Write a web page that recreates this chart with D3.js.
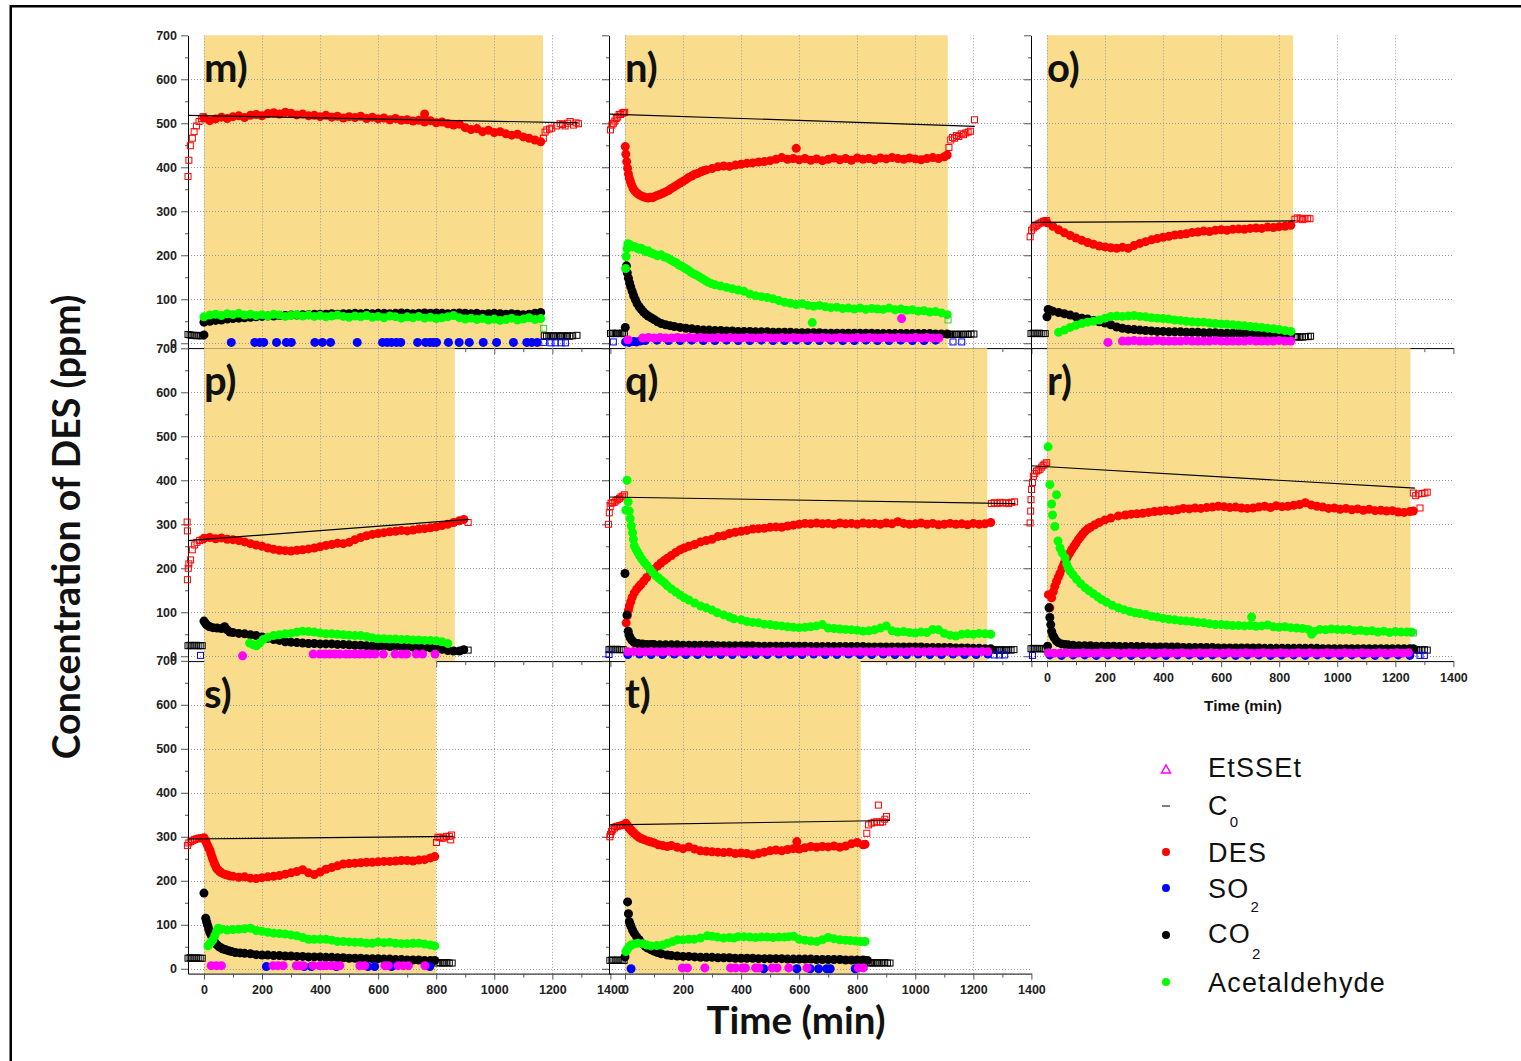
<!DOCTYPE html>
<html><head><meta charset="utf-8">
<script src="https://cdn.jsdelivr.net/npm/d3@7"></script>
<style>body{margin:0;background:#fff}svg{display:block}</style>
</head><body>
<svg id="c" width="1521" height="1061"></svg>
<script>
// ---------- helpers: sampling grid for evenly spaced readings ----------
function run(t0, dt, vals){ return vals.map((v,i)=>[t0+i*dt, v]); }
function at(ts, v){ return ts.map(t=>[t, v]); }

// ---------- ticks ----------
const xTicks = [0,200,400,600,800,1000,1200,1400];
const xMinor = [100,300,500,700,900,1100,1300];
const yTicks = [0,100,200,300,400,500,600,700];
const yMinor = [50,150,250,350,450,550,650];
const xGrid = [0,200,400,600,800,1000,1200];
const yGrid = [0,100,200,300,400,500,600];

// ---------- panel m ----------
const c0M = [[-55,518],[1290,501]];
const desMPre = [[-55,379],[-52,416],[-47,449],[-40,466],[-34,481],[-26,494],[-17,504],[-9,511],[-3,515]];
const desMPost = [[1169,466],[1175,480],[1181,485],[1190,487],[1198,489],[1215,494],[1227,499],[1235,497],[1244,494],[1252,500],[1261,504],[1273,496],[1282,501],[1290,499]];
const desM = run(0,20,[512,506,510,514,511,515,517,513,518,520,
 517,522,524,521,525,523,519,521,517,518,
 515,518,514,516,512,515,513,516,511,514,
 510,512,508,511,507,508,505,507,503,506,
 501,503,499,496,498,490,486,488,481,484,
 479,481,476,473,475,469,466,462,458]).concat([[760,521]]);
const acetM = run(0,20,[60,64,66,63,67,65,68,64,66,63,
 65,62,66,64,61,63,65,62,64,61,
 63,60,62,64,61,59,62,60,63,59,
 61,58,62,60,57,60,58,61,57,59,
 56,58,60,63,58,55,57,54,56,53,
 55,52,54,57,53,55,58,54,56]);
const acetMPost = [[1170,34]];
const co2M = [[0,19]].concat(run(0,20,[48,50,52,53,55,56,57,58,59,60,
 61,62,62,63,63,64,64,65,65,66,
 66,66,67,66,67,67,68,67,68,67,
 68,68,67,68,69,68,67,68,69,68,
 69,68,67,68,69,68,67,68,66,67,
 68,67,66,67,66,65,66,68,70]));
const co2MPre = [[-55,20],[-48,19],[-41,18],[-34,18],[-27,17],[-20,18],[-13,17],[-6,17]];
const co2MPost = [[1172,17],[1180,16],[1188,17],[1196,16],[1204,17],[1212,16],[1220,17],[1228,16],[1236,17],[1244,16],[1252,17],[1260,16],[1270,17],[1285,18]];
const so2M = at([94,175,192,206,250,284,301,382,408,436,528,615,631,646,663,678,736,763,778,790,801,842,879,914,962,1008,1066,1112,1129,1148],2);
const so2MPost = [[1170,2],[1195,1],[1210,1],[1230,1],[1245,1]];

// ---------- panel n ----------
const c0N = [[-52,521],[1205,493]];
const desNPre = [[-50,485],[-45,496],[-40,500],[-35,505],[-30,511],[-25,514],[-20,520],[-15,520],[-10,523],[-5,524],[-1,525]];
const desN = [[1,447],[3,430],[6,413],[9,398],[12,385],[15,375],[19,367],[23,360],[28,352],[33,347],[40,342],[48,338],[56,335],[64,333],[72,331],[80,330],[88,332],[96,331],[104,334],[112,336],[120,338],[130,341],[140,344],[150,347],[160,352],[170,356],[180,360],[190,364],[200,368],[210,372],[220,377],[230,380],[240,384],[250,386],[260,389],[270,392],[280,394]]
 .concat(run(300,20,[397,401,403,402,405,407,409,410,412,413,
 415,418,422,418,420,417,420,416,419,415,
 418,421,417,420,416,421,418,420,417,421,
 419,422,420,418,421,419,417,420,422,420,
 424])).concat([[1110,428],[590,443]]);
const desNPost = [[1116,445],[1122,462],[1128,468],[1135,466],[1142,472],[1150,470],[1158,476],[1166,474],[1174,478],[1182,480],[1190,482],[1204,508]];
const acetN = [[2,170],[4,197],[7,215],[10,226],[15,225],[20,222],[26,219],[32,220],[40,217],[48,214],[56,216],[64,212],[72,208],[80,210],[90,205],[100,203],[112,199],[124,201],[136,196],[146,194],[156,190],[166,186],[176,183],[186,178],[196,175],[206,171],[216,167],[226,162],[236,158],[246,155],[256,151],[266,147],[276,143],[286,139],[296,136]]
 .concat(run(310,20,[133,130,127,124,121,118,112,108,106,104,
 101,97,93,91,88,90,86,84,86,83,
 81,82,79,80,78,80,77,79,78,77,
 80,76,78,75,76,73,74,71,72,69])).concat([[1110,65],[645,47]]);
const acetNPost = [[1113,53]];
const co2N = [[1,36],[5,176],[8,160],[12,148],[16,137],[20,128],[25,118],[30,108],[36,99],[42,90],[49,83],[56,77],[64,71],[72,66],[80,62],[90,58],[100,54],[112,49],[125,45],[140,42],[155,40],[170,38],[190,36],[210,34],[230,33],[250,31]]
 .concat(run(270,20,[30,30,29,29,28,28,27,27,27,26,
 26,26,25,25,25,25,24,24,24,24,
 24,23,23,23,23,23,23,23,23,23,
 22,22,22,22,22,22,22,22,22,22,
 21,21,21]));
const co2NPre = [[-50,22],[-44,23],[-38,22],[-32,22],[-26,23],[-20,22],[-14,22],[-8,23],[-2,22]];
const co2NPost = [[1118,20],[1126,21],[1134,20],[1142,20],[1150,21],[1158,20],[1166,20],[1174,21],[1182,20],[1192,21],[1202,21]];
const etN = [[10,8]].concat(run(61,20,[12,13,12,13,12,12,13,12,13,12,
 13,12,12,13,12,13,12,12,13,12,
 12,13,12,12,13,12,13,12,12,13,
 12,13,12,12,13,12,12,13,12,13,
 12,12,13,12,13,12,12,13,12,13,
 12,12])).concat([[953,56]]);
const so2N = [[2,3],[8,5],[14,2],[30,4],[40,3],[52,5]].concat(run(70,40,[6,7,6,6,7,6,6,7,6,6,7,6,6,7,6,6,7,6,6,7,6,6,7,6,6,7]));
const so2NPre = [[-40,3]];
const so2NPost = [[1130,3],[1160,3]];

// ---------- panel o ----------
const c0O = [[-55,275],[855,278]];
const desOPre = [[-58,242],[-53,257],[-47,262],[-41,265],[-35,268],[-30,271],[-24,273],[-18,275],[-12,277],[-7,278],[-2,279]];
const desO = run(0,20,[274,266,258,251,245,239,234,229,225,221,
 219,217,216,218,216,222,227,231,235,238,
 241,243,246,247,249,252,253,255,254,257,
 258,257,259,260,259,261,262,261,264,263,
 265,266,268]);
const desOPost = [[854,282],[862,285],[872,284],[880,281],[889,283],[898,284],[906,283]];
const acetO = run(40,20,[25,30,36,41,45,48,50,53,57,61,
 62,61,62,63,61,60,58,57,56,55,
 53,52,50,49,48,48,46,45,44,43,
 42,41,40,38,37,36,34,33,31,29,
 27]);
const co2O = [[0,60],[4,77],[10,75]].concat(run(20,20,[73,70,67,64,60,57,55,52,49,46,
 42,37,34,32,31,30,29,28,27,27,
 26,26,26,25,25,25,24,24,24,23,
 23,23,23,22,22,22,21,21,21,20,
 20,20]));
const co2OPre = [[-55,22],[-48,23],[-41,22],[-34,22],[-27,23],[-20,22],[-13,22],[-6,22]];
const co2OPost = [[856,14],[864,15],[872,14],[880,14],[890,15],[900,15],[908,16]];
const etO = [[210,2]].concat(run(260,20,[5,5,6,5,5,5,6,5,5,5,5,6,5,5,5,5,6,5,5,5,5,5,6,5,5,5,5,6,5,5]));

// ---------- panel p ----------
const c0P = [[-55,263],[912,311]];
const desPPre = [[-58,305],[-57,285],[-57,174],[-54,200],[-52,210],[-46,219],[-40,242],[-32,253],[-24,259],[-15,263],[-6,265]];
const desP = run(0,20,[268,270,267,269,266,265,263,260,256,253,
 250,246,243,241,240,239,241,242,244,246,
 249,252,254,257,256,259,265,270,274,277,
 279,281,283,284,286,285,287,289,290,292,
 294,297,300,304,308]).concat([[895,311]]);
const desPPost = [[910,304]];
const acetP = [[157,30],[170,26],[181,24],[192,30],[204,38]].concat(run(220,20,[43,47,49,51,52,55,57,56,55,53,
 51,51,50,49,48,47,47,45,42,40,
 40,39,39,38,38,37,37,36,36,35,
 33,29]));
const co2P = [[0,80],[4,76],[8,72],[14,69],[20,67],[31,65],[45,64],[60,63],[71,67],[80,60],[89,55]].concat(run(100,20,[54,52,51,49,47,44,41,38,36,33,
 32,31,30,29,29,28,28,28,27,27,
 26,25,25,24,23,23,23,22,22,22,
 22,21,21,20,19,18,16,13,12,12])).concat([[895,15]]);
const co2PPre = [[-55,24],[-48,25],[-41,24],[-34,24],[-27,25],[-20,24],[-13,24],[-6,24]];
const co2PPost = [[910,14]];
const so2PPre = [[-12,2]];
const etP = [[133,1]].concat(at([376,399,416,433,451,468,489,502,520,537,554,571,589,618,658,681,698,731,753,796],5));

// ---------- panel q ----------
const c0Q = [[-55,362],[1345,347]];
const desQPre = [[-57,300],[-54,326],[-51,340],[-48,348],[-43,349],[-37,350],[-31,353],[-25,356],[-19,359],[-14,362],[-8,364],[-2,367]];
const desQ = [[4,76],[8,92],[12,105],[15,114],[20,124],[25,134],[32,144],[40,152],[48,158],[55,163],[65,171],[75,179],[89,190],[100,198],[112,205],[124,212],[136,218],[146,223],[160,229],[175,236],[190,242],[204,246]]
 .concat(run(220,20,[250,254,260,263,266,272,274,279,282,284,
 286,289,290,291,293,294,293,296,298,300,
 302,301,303,301,302,300,303,301,302,300,
 303,301,302,300,303,301,306,302,300,301,
 303,300,302,299,300,302,300,301,299,302,
 300,301,304]));
const desQPost = [[1262,347],[1272,349],[1282,347],[1292,350],[1302,348],[1312,349],[1322,347],[1332,350],[1342,351]];
const acetQ = [[3,332],[7,400],[11,351],[15,330],[18,313],[22,296],[26,281],[29,266],[32,251],[38,243],[44,236],[50,229],[58,221],[67,213],[76,206],[86,198],[96,190],[106,183],[116,178],[126,172],[136,167],[146,160],[160,153],[175,146],[190,139],[204,133],[220,128],[240,121],[261,114],[280,110],[300,105],[318,99],[340,94],[360,89],[375,85]]
 .concat(run(400,20,[83,79,77,76,73,72,70,69,67,66,
 65,66,67,69,72,64,63,62,61,60,
 59,57,58,60,64,69,58,55,56,54,
 53,55,54,61,60,52,48,46,50,51,
 50,52,51,50]));
const co2Q = [[0,188],[7,94],[11,57],[14,48],[18,42],[24,36],[32,31],[45,29],[60,28],[75,27],[89,27]].concat(run(100,20,[27,26,26,26,26,25,25,25,25,25,
 25,24,24,24,24,24,24,24,23,23,
 23,23,23,23,23,23,23,22,22,22,
 22,22,22,22,22,22,22,21,21,21,
 21,21,21,21,21,21,21,20,20,20,
 20,20,19,19,19,18,18,17,17]));
const co2QPre = [[-55,15],[-48,16],[-41,15],[-34,15],[-27,16],[-20,15],[-13,15],[-6,15]];
const co2QPost = [[1266,14],[1274,15],[1282,14],[1290,14],[1298,15],[1306,14],[1314,14],[1322,15],[1330,14],[1340,15]];
const etQ = run(10,20,[10,11,10,10,11,10,10,11,10,10,
 11,10,10,11,10,10,11,10,10,11,
 10,10,11,10,10,11,10,10,11,10,
 10,11,10,10,11,10,10,11,10,10,
 11,10,10,11,10,10,11,10,10,11,
 10,10,11,10,10,11,10,10,11,10,
 10,11,10]);
const so2Q = run(10,40,[4,5,4,4,5,4,4,5,4,4,5,4,4,5,4,4,5,4,4,5,4,4,5,4,4,5,4,4,5,4,4,5]);
const so2QPre = [[-55,4]];
const so2QPost = [[1272,3],[1290,3],[1308,3]];

// ---------- panel r ----------
const c0R = [[-55,433],[1268,382]];
const desRPre = [[-58,303],[-56,330],[-55,356],[-53,379],[-50,395],[-47,409],[-42,415],[-36,421],[-30,423],[-24,425],[-18,430],[-13,434],[-7,437],[-1,440]];
const desR = [[5,140],[10,110],[16,133],[22,147],[27,159],[33,170],[39,180],[45,189],[52,200],[58,209],[62,216],[70,225],[78,234],[85,242],[93,250],[100,257],[108,265],[115,271],[123,278],[131,284],[140,289],[150,293],[165,299],[180,304],[200,310],[220,314],[246,319],[270,321],[290,323]]
 .concat(run(310,20,[324,325,327,329,330,332,331,333,336,335,
 337,336,338,339,341,340,338,339,337,336,
 337,339,341,338,342,340,341,343,345,349,
 344,341,339,336,337,334,336,333,335,332,
 334,331,332,330,331,328,327,329])).concat([[1262,330]]);
const desRPost = [[1262,371],[1270,365],[1280,369],[1285,337],[1292,370],[1302,371],[1310,373]];
const acetR = [[4,476],[10,390],[16,346],[19,321],[27,295],[33,367],[38,262],[45,246],[52,235],[62,224],[68,210],[73,201],[80,193],[90,185],[102,175],[116,165],[131,156],[145,149],[160,142],[175,135],[188,129],[205,123],[225,116],[246,110],[265,106],[285,102],[303,99]]
 .concat(run(320,20,[97,95,91,89,86,84,83,81,80,79,
 77,76,74,72,72,71,70,70,69,70,
 68,69,71,67,66,67,65,64,63,61,
 56,61,60,62,61,60,61,58,59,57,
 58,55,57,54,56,55,55])).concat([[1256,55],[912,50],[705,89]]);
const acetRPost = [[1262,53]];
const co2R = [[2,23],[7,110],[10,88],[13,72],[16,57],[20,48],[25,42],[32,35],[39,31],[50,28],[62,27],[73,26]]
 .concat(run(90,20,[25,24,24,24,23,23,23,23,22,22,
 22,22,22,21,21,21,21,21,21,20,
 20,20,20,20,20,19,19,19,19,19,
 19,19,19,18,18,18,18,18,18,18,
 18,18,18,17,17,17,17,17,17,17,
 17,17,17,17,17,17,17,17,17])).concat([[1262,17]]);
const co2RPre = [[-55,17],[-48,18],[-41,17],[-34,17],[-27,18],[-20,17],[-13,17],[-6,17]];
const co2RPost = [[1266,14],[1274,15],[1282,14],[1292,14],[1300,15],[1310,14]];
const etR = run(5,20,[8,7,7,8,7,7,8,7,7,8,
 7,8,7,7,8,7,7,8,7,7,
 8,7,7,8,7,7,8,7,8,7,
 7,8,7,7,8,7,7,8,7,7,
 8,7,7,8,7,8,7,7,8,7,
 7,8,7,7,8,7,7,8,7,7,
 8,7,8]);
const so2R = run(10,40,[3,2,3,3,2,3,3,2,3,3,2,3,3,2,3,3,2,3,3,2,3,3,2,3,3,2,3,3,2,3,3,2]);
const so2RPre = [[-50,2]];
const so2RPost = [[1285,2],[1300,2]];

// ---------- panel s ----------
const c0S = [[-55,295],[859,301]];
const desSPre = [[-57,280],[-52,286],[-45,289],[-38,292],[-32,294],[-26,295],[-20,296],[-15,297],[-9,298],[-3,295]];
const desS = [[0,298],[4,293],[8,287],[12,281],[16,275],[20,270],[24,262],[28,254],[31,248],[35,241],[39,235],[43,229],[48,225],[54,221],[60,218],[70,215],[80,213],[89,211],[100,210]]
 .concat(run(120,20,[208,209,206,205,207,209,210,212,215,218,
 221,225,218,214,220,226,230,234,238,239,
 240,241,242,242,243,244,244,245,246,246,
 245,247,248,252])).concat([[795,255]]);
const desSPost = [[801,287],[806,299],[813,299],[820,297],[826,297],[835,301],[845,301],[850,293],[853,304]];
const acetS = [[14,52],[20,57],[26,62],[31,66],[37,75],[43,84],[49,92]].concat(run(60,20,[90,88,89,90,91,92,87,85,83,81,
 80,79,77,75,71,67,67,67,67,65,
 62,62,61,60,60,58,58,61,59,60,
 58,57,57,58,58,56,54])).concat([[795,52]]);
const co2S = [[0,172],[6,115],[9,107],[12,100],[16,91],[20,83],[25,76],[30,69],[37,60],[44,55],[52,50],[60,47],[66,45],[75,43],[85,41],[95,39],[108,37],[124,36]]
 .concat(run(140,20,[35,34,32,31,31,30,30,29,29,28,
 28,27,27,27,26,26,25,25,24,24,
 24,23,23,23,22,22,21,21,20,20,
 20,19,19])).concat([[795,19]]);
const co2SPre = [[-55,24],[-48,25],[-41,24],[-34,24],[-27,25],[-20,24],[-13,24],[-6,24]];
const co2SPost = [[805,13],[813,14],[821,13],[829,13],[837,14],[845,13],[855,13]];
const etS = at([25,43,60,238,255,273,318,330,342,376,399,411,422,439,456,468,537,554,623,635,669,687,704,761],7);
const so2S = at([215,345,370,456,565,588,646,778],5);

// ---------- panel t ----------
const c0T = [[-52,327],[913,337]];
const desTPre = [[-52,300],[-50,305],[-46,312],[-42,316],[-36,320],[-31,323],[-25,324],[-19,325],[-14,326],[-8,327],[-3,328]];
const desT = [[3,331],[8,326],[12,322],[15,320],[20,316],[25,312],[32,308],[40,303],[48,299],[56,296],[67,293],[80,290],[90,288],[101,286],[115,282],[130,280],[146,278]]
 .concat(run(160,20,[280,276,273,277,272,268,267,266,265,264,
 265,262,263,262,259,262,265,268,270,268,
 271,273,272,275,278,276,278,277,279,276,
 279,284,287,282])).concat([[827,283],[592,289]]);
const desTPost = [[833,308],[839,327],[850,331],[858,333],[867,334],[873,372],[880,333],[888,334],[895,340],[901,346]];
const acetT = [[3,39],[8,44],[14,50],[21,54],[30,56],[44,58],[60,57],[75,54],[90,52],[110,53],[130,54],[146,58],[165,62],[181,66],[200,66],[220,67],[238,67],[260,70],[284,75],[300,74],[318,72],[340,70],[360,71],[375,70],[390,73],[410,73],[430,72],[450,71],[470,72],[490,72],[510,71],[530,72],[550,72],[565,73],[581,74],[600,67],[620,65],[640,63],[661,62],[680,66],[700,71],[720,68],[740,66],[760,65],[776,64],[795,63],[812,62],[827,62]];
const co2T = [[0,27],[9,152],[12,125],[15,107],[18,101],[21,96],[26,88],[32,81],[40,73],[49,66],[60,57],[70,51],[78,47],[90,43],[100,40],[112,37],[125,34],[146,31]]
 .concat(run(160,20,[30,29,28,28,27,26,26,26,25,25,
 25,24,24,24,24,23,23,23,23,23,
 22,22,22,22,22,21,21,21,21,21,
 20,20,20,20])).concat([[835,19]]);
const co2TPre = [[-52,19],[-45,20],[-38,19],[-31,19],[-24,20],[-17,19],[-10,19],[-3,19]];
const co2TPost = [[838,13],[846,14],[854,13],[862,13],[870,14],[878,13],[886,13],[895,14],[904,13],[913,13]];
const etT = at([198,215,275,364,381,404,415,450,461,507,524,564,627,804,821],2);
const so2T = at([21,478,592,638,667,695,707,793],0);

// ---------- panel table ----------
const panelLabels = ['m)','n)','o)','p)','q)','r)','s)','t)'];
const shadeEnds = [1168,1112,848,864,1248,1252,799,812];
const legendNames = ['EtSSEt','C','DES','SO','CO','Acetaldehyde'];
const legendSubs = ['','0','','2','2',''];

const COL = {des:'#ff0000', acet:'#00ff00', co2:'#000000', so2:'#0000ff', et:'#ff00ff'};
const SHADE = '#fadd8c';

const panels = [
 {col:0,row:0,c0:c0M,des:desM,desPre:desMPre,desPost:desMPost,acet:acetM,acetPost:acetMPost,co2:co2M,co2Pre:co2MPre,co2Post:co2MPost,so2:so2M,so2Post:so2MPost,et:[]},
 {col:1,row:0,c0:c0N,des:desN,desPre:desNPre,desPost:desNPost,acet:acetN,acetPost:acetNPost,co2:co2N,co2Pre:co2NPre,co2Post:co2NPost,so2:so2N,so2Pre:so2NPre,so2Post:so2NPost,et:etN},
 {col:2,row:0,c0:c0O,des:desO,desPre:desOPre,desPost:desOPost,acet:acetO,co2:co2O,co2Pre:co2OPre,co2Post:co2OPost,so2:[],et:etO},
 {col:0,row:1,c0:c0P,des:desP,desPre:desPPre,desPost:desPPost,acet:acetP,co2:co2P,co2Pre:co2PPre,co2Post:co2PPost,so2:[],so2Pre:so2PPre,et:etP},
 {col:1,row:1,c0:c0Q,des:desQ,desPre:desQPre,desPost:desQPost,acet:acetQ,co2:co2Q,co2Pre:co2QPre,co2Post:co2QPost,so2:so2Q,so2Pre:so2QPre,so2Post:so2QPost,et:etQ},
 {col:2,row:1,c0:c0R,des:desR,desPre:desRPre,desPost:desRPost,acet:acetR,acetPost:acetRPost,co2:co2R,co2Pre:co2RPre,co2Post:co2RPost,so2:so2R,so2Pre:so2RPre,so2Post:so2RPost,et:etR,xlab:true},
 {col:0,row:2,c0:c0S,des:desS,desPre:desSPre,desPost:desSPost,acet:acetS,co2:co2S,co2Pre:co2SPre,co2Post:co2SPost,so2:so2S,et:etS,xlab:true},
 {col:1,row:2,c0:c0T,des:desT,desPre:desTPre,desPost:desTPost,acet:acetT,co2:co2T,co2Pre:co2TPre,co2Post:co2TPost,so2:so2T,et:etT,xlab:true}
];
panels.forEach((p,i)=>{p.label=panelLabels[i]; p.shade=shadeEnds[i];});

// ---------- layout ----------
const colLeft = [188, 609, 1031];
const rowTop = [35.3, 348.3, 660.8];
const X_DOMAIN = [-55, 1400], Y_DOMAIN = [-11, 700];
const PW = 422.4, PH = 312.8;
const TICKFONT = "'Liberation Sans', Arial, sans-serif";
const R = 4.5;

const svg = d3.select('#c');
svg.append('rect').attr('width',1521).attr('height',1061).attr('fill','#fff');
svg.append('rect').attr('x',10.75).attr('y',6.25).attr('width',1700).attr('height',1300)
  .attr('fill','none').attr('stroke','#000').attr('stroke-width',2.5);

const bg = svg.append('g'), fg = svg.append('g');

panels.forEach(p=>{
  const left = colLeft[p.col], top = rowTop[p.row];
  const x = d3.scaleLinear().domain(X_DOMAIN).range([left, left+PW]);
  const y = d3.scaleLinear().domain(Y_DOMAIN).range([top+PH, top]);
  p.x = x; p.y = y;
  const g = bg.append('g');
  g.append('rect').attr('x',x(0)).attr('y',y(700)).attr('width',x(p.shade)-x(0)).attr('height',y(-11)-y(700)).attr('fill',SHADE);
  // grid
  g.selectAll(null).data(xGrid).join('line')
    .attr('x1',d=>Math.round(x(d))+0.5).attr('x2',d=>Math.round(x(d))+0.5).attr('y1',y(700)).attr('y2',y(-11))
    .attr('stroke','#9a9a9a').attr('stroke-width',1).attr('stroke-dasharray','1,2');
  g.selectAll(null).data(yGrid).join('line')
    .attr('y1',d=>Math.round(y(d))+0.5).attr('y2',d=>Math.round(y(d))+0.5).attr('x1',x(-55)).attr('x2',x(1400))
    .attr('stroke','#9a9a9a').attr('stroke-width',1).attr('stroke-dasharray','1,2');
  // y axis
  const ya = g.append('g').attr('transform',`translate(${left},0)`)
    .call(d3.axisLeft(y).tickValues(yTicks).tickSize(7).tickSizeOuter(0).tickPadding(4)
      .tickFormat(p.col===0 ? d3.format('d') : ()=>''));
  g.append('g').attr('transform',`translate(${left},0)`)
    .call(d3.axisLeft(y).tickValues(yMinor).tickSize(3).tickFormat(()=>''))
    .call(s=>s.select('.domain').remove());
  // x axis
  const xa = g.append('g').attr('transform',`translate(0,${y(-11)})`)
    .call(d3.axisBottom(x).tickValues(xTicks).tickSize(6).tickSizeOuter(0).tickPadding(6)
      .tickFormat(p.xlab ? d3.format('d') : ()=>''));
  g.append('g').attr('transform',`translate(0,${y(-11)})`)
    .call(d3.axisBottom(x).tickValues(xMinor).tickSize(4).tickFormat(()=>''))
    .call(s=>s.select('.domain').remove());
  [ya, xa].forEach(a=>{
    a.attr('font-family',TICKFONT).attr('font-size',12.5).attr('font-weight','bold');
    a.selectAll('text').attr('fill','#222');
  });
  g.selectAll('.domain').attr('stroke','#000');
  g.selectAll('.tick line').attr('stroke','#555');
  // panel label
  g.append('text').attr('x',x(0)).attr('y',top+47).text(p.label)
    .attr('font-family','Lato, sans-serif').attr('font-weight','bold').attr('font-size',40).attr('fill','#111');
});

function dots(g, data, color, x, y){
  g.append('g').selectAll('circle').data(data||[]).join('circle')
    .attr('cx',d=>x(d[0])).attr('cy',d=>y(d[1])).attr('r',R).attr('fill',color);
}
function squares(g, data, color, x, y){
  g.append('g').selectAll('rect').data(data||[]).join('rect')
    .attr('x',d=>x(d[0])-3).attr('y',d=>y(d[1])-3).attr('width',6).attr('height',6)
    .attr('fill','none').attr('stroke',color).attr('stroke-width',1);
}

panels.forEach(p=>{
  const g = fg.append('g'), x = p.x, y = p.y;
  squares(g, p.desPre, COL.des, x, y);
  squares(g, p.desPost, COL.des, x, y);
  squares(g, p.co2Pre, COL.co2, x, y);
  squares(g, p.co2Post, COL.co2, x, y);
  squares(g, p.so2Pre, COL.so2, x, y);
  squares(g, p.so2Post, COL.so2, x, y);
  dots(g, p.des, COL.des, x, y);
  dots(g, p.co2, COL.co2, x, y);
  dots(g, p.acet, COL.acet, x, y);
  squares(g, p.acetPost, '#33cc33', x, y);
  dots(g, p.so2, COL.so2, x, y);
  dots(g, p.et, COL.et, x, y);
  g.append('path').attr('d', d3.line().x(d=>x(d[0])).y(d=>y(d[1]))(p.c0))
    .attr('stroke','#000').attr('stroke-width',1.2).attr('fill','none');
});

// ---------- legend ----------
const lg = svg.append('g');
const legY = [769, 806, 852, 888, 935, 982];
const legBase = [777, 815, 862, 898, 943, 992];
const subBase = [0, 827, 0, 912, 959, 0];
const legColors = [COL.et, '#555', COL.des, COL.so2, COL.co2, COL.acet];
const legFont = "'Liberation Sans', Arial, sans-serif";
legendNames.forEach((name,i)=>{
  const mx = 1166;
  if(i===0){
    lg.append('path').attr('d',`M${mx-4.5},${legY[i]+4}L${mx},${legY[i]-4}L${mx+4.5},${legY[i]+4}Z`)
      .attr('fill','none').attr('stroke',legColors[i]).attr('stroke-width',1.5);
  } else if(i===1){
    lg.append('line').attr('x1',mx-4).attr('x2',mx+4).attr('y1',legY[i]).attr('y2',legY[i]).attr('stroke','#555').attr('stroke-width',1.5);
  } else {
    lg.append('circle').attr('cx',mx).attr('cy',legY[i]).attr('r',4).attr('fill',legColors[i]);
  }
  const t = lg.append('text').attr('x',1208).attr('y',legBase[i]).text(name)
    .attr('font-family',legFont).attr('font-size',27).attr('letter-spacing',1.2).attr('fill','#111');
  if(legendSubs[i]){
    const w = t.node().getComputedTextLength();
    lg.append('text').attr('x',1208+w+1).attr('y',subBase[i]).text(legendSubs[i])
      .attr('font-family',legFont).attr('font-size',15).attr('fill','#111');
  }
});

// ---------- titles ----------
svg.append('text').attr('transform','translate(80,527) rotate(-90)').attr('text-anchor','middle')
  .text('Concentration of DES (ppm)').attr('font-family','Lato, sans-serif').attr('font-weight','bold').attr('font-size',37.5).attr('fill','#111');
svg.append('text').attr('x',796).attr('y',1034).attr('text-anchor','middle')
  .text('Time (min)').attr('font-family','Lato, sans-serif').attr('font-weight','bold').attr('font-size',38.5).attr('fill','#111');
svg.append('text').attr('x',1243).attr('y',711).attr('text-anchor','middle')
  .text('Time (min)').attr('font-family',legFont).attr('font-weight','bold').attr('font-size',15.5).attr('fill','#111');
</script>
</body></html>
